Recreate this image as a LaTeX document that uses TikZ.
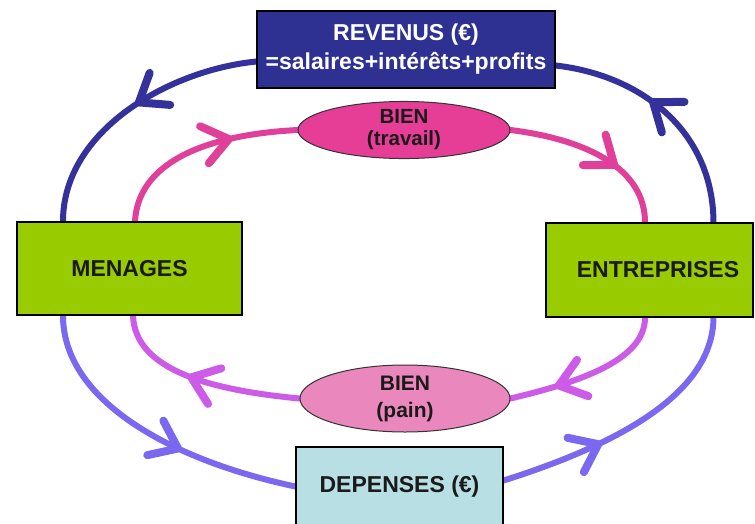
\documentclass[tikz,border=0pt]{standalone}
\usepackage{fontspec}
\setmainfont{Liberation Sans}
\usetikzlibrary{shapes.geometric,decorations.markings}
\definecolor{revblue}{HTML}{2E3192}
\definecolor{flowblue}{HTML}{34329A}
\definecolor{flowpink}{HTML}{E0409A}
\definecolor{flowviolet}{HTML}{CC5BE8}
\definecolor{flowlight}{HTML}{7A68F0}
\definecolor{boxgreen}{HTML}{99CC00}
\definecolor{depfill}{HTML}{B7DFE4}
\definecolor{travfill}{HTML}{E63E96}
\definecolor{painfill}{HTML}{EA88BE}
\definecolor{txt}{HTML}{1A1A1A}
\pgfdeclarelayer{bg}
\pgfsetlayers{bg,main}
\tikzset{
  boxnode/.style={draw=black, line width=1.2pt, rectangle, inner sep=0pt, text=txt,
    font=\fontsize{23}{29}\selectfont\bfseries, align=center},
  ellnode/.style={draw=black!80, line width=1pt, ellipse, inner sep=0pt, text=txt,
    align=center},
  flow/.style={line width=6pt, line cap=round},
  midarrow/.style 2 args={postaction={decorate}, decoration={markings,
    mark=at position #1 with {\draw[#2, line width=8pt, line cap=round, line join=round]
      (-25pt,19pt) -- (0pt,0pt) -- (-25pt,-19pt);}}}
}
\begin{document}
\begin{tikzpicture}[x=1pt,y=-1pt]
\useasboundingbox (0,0) rectangle (755,523);
% nodes
\node[boxnode, fill=revblue, text=white, minimum width=298pt, minimum height=77pt]
  (rev) at (406,49.5) {REVENUS (€)\\=salaires+intérêts+profits};
\node[boxnode, fill=boxgreen, minimum width=225pt, minimum height=93pt]
  (men) at (129.5,268.5) {MENAGES};
\node[boxnode, fill=boxgreen, minimum width=207pt, minimum height=94pt]
  (ent) at (649.5,270) {\hspace*{17pt}ENTREPRISES};
\node[boxnode, fill=depfill, minimum width=207pt, minimum height=79pt]
  (dep) at (399.5,486.5) {DEPENSES (€)};
\node[ellnode, fill=travfill, minimum width=212pt, minimum height=55pt,
  font=\fontsize{20.5}{22}\selectfont\bfseries] (trav) at (404,130) {BIEN\\(travail)};
\node[ellnode, fill=painfill, minimum width=210pt, minimum height=67pt,
  font=\fontsize{21}{27}\selectfont\bfseries] (pain) at (405,398.5) {BIEN\\(pain)};
% flows
\begin{pgfonlayer}{bg}
\fill[white] (0,0) rectangle (755,523);
\draw[flow, flowblue, midarrow={0.46}{flowblue}] ([yshift=-12pt]rev.west)
  .. controls (170,70) and (63,130) .. ([xshift=-66.5pt]men.north);
\draw[flow, flowblue, midarrow={0.57}{flowblue}] ([xshift=64pt]ent.north)
  .. controls (713,130) and (640,75) .. ([yshift=-16pt]rev.east);
\draw[flow, flowpink, midarrow={0.66}{flowpink}] ([xshift=5.5pt]men.north)
  .. controls (138,165) and (200,135) .. (trav.west);
\draw[flow, flowpink, midarrow={0.62}{flowpink}] (trav.east)
  .. controls (590,140) and (645,170) .. ([xshift=-4.5pt]ent.north);
\draw[flow, flowviolet, midarrow={0.7}{flowviolet}] ([xshift=-4.5pt]ent.south)
  .. controls (645,360) and (580,382) .. (pain.east);
\draw[flow, flowviolet, midarrow={0.55}{flowviolet}] (pain.west)
  .. controls (210,390) and (135,370) .. ([xshift=3.5pt]men.south);
\draw[flow, flowlight, midarrow={0.6}{flowlight}] ([xshift=-66.5pt]men.south)
  .. controls (63,400) and (170,460) .. (dep.west);
\draw[flow, flowlight, midarrow={0.36}{flowlight}] ([yshift=6pt]dep.east)
  .. controls (600,450) and (713,400) .. ([xshift=64pt]ent.south);
\end{pgfonlayer}
\end{tikzpicture}
\end{document}
